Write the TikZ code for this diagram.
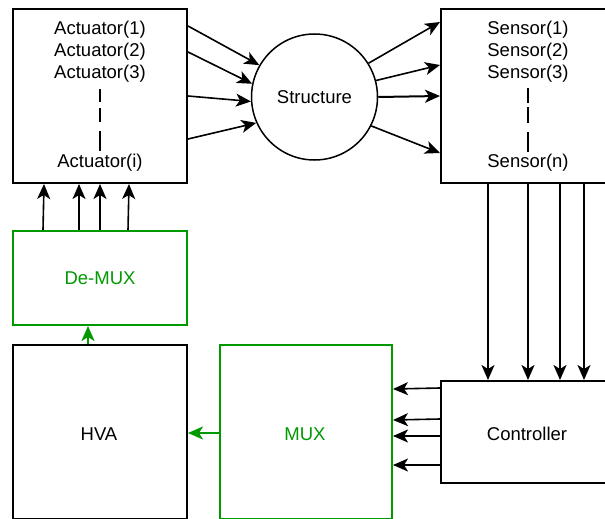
\documentclass[tikz,border=0pt]{standalone}
\usepackage{fontspec}
\setmainfont{Liberation Sans}
\usetikzlibrary{arrows.meta}
\definecolor{grn}{RGB}{0,153,0}
\begin{document}
\begin{tikzpicture}[x=1pt,y=-1pt,
  font=\fontsize{18.5}{22}\selectfont,
  blk/.style={draw=black,line width=2pt,inner sep=0pt,anchor=center},
  gbox/.style={draw=grn,line width=2pt,inner sep=0pt,anchor=center,text=grn},
  lbl/.style={inner sep=0pt,anchor=center},
  arr/.style={line width=1.6pt,-{Stealth[length=15pt,width=13pt,inset=4pt]}},
  garr/.style={arr,draw=grn,-{Stealth[length=15pt,width=13pt,inset=4pt,fill=grn]}},
  vseg/.style={line width=1.3pt}
]
\useasboundingbox (0,0) rectangle (605,519);
\clip (0,0) rectangle (605,519);
\fill[white] (0,0) rectangle (605,519);
% boxes
\node[blk,minimum width=174pt,minimum height=174pt] (act) at (100,96) {};
\node[blk,circle,line width=1.5pt,minimum size=126pt] (str) at (314.5,97) {Structure};
\node[blk,minimum width=174pt,minimum height=174pt] (sen) at (528,96) {};
\node[gbox,minimum width=174pt,minimum height=94pt] (dmx) at (100,278) {De-MUX};
\node[blk,minimum width=174pt,minimum height=174pt] (hva) at (100,432) {};
\node[lbl] (hvatxt) at (99,434) {HVA};
\node[gbox,minimum width=172pt,minimum height=174pt] (mux) at (306,432) {};
\node[lbl,text=grn] (muxtxt) at (305,434) {MUX};
\node[blk,minimum width=174pt,minimum height=102pt] (ctl) at (528,432) {};
\node[lbl] (ctltxt) at (527,434) {Controller};
% actuator labels
\node[lbl] (a1) at (100,30) {Actuator(1)};
\node[lbl] (a2) at (100,52) {Actuator(2)};
\node[lbl] (a3) at (100,74) {Actuator(3)};
\node[lbl] (ai) at (100,163) {Actuator(i)};
\draw[vseg] (100,89) -- (100,102) (100,108) -- (100,122) (100,131) -- (100,151);
% sensor labels
\node[lbl] (s1) at (528,30) {Sensor(1)};
\node[lbl] (s2) at (528,52) {Sensor(2)};
\node[lbl] (s3) at (528,74) {Sensor(3)};
\node[lbl] (sn) at (528,163) {Sensor(n)};
\draw[vseg] (528,88) -- (528,103) (528,107) -- (528,123) (528,132) -- (528,152);
% actuator -> structure
\draw[arr] ([yshift=70pt]act.east) -- (str.150);
\draw[arr] ([yshift=44pt]act.east) -- (str.168);
\draw[arr] ([yshift=0pt]act.east) -- (str.184);
\draw[arr] ([yshift=-43pt]act.east) -- (str.204);
% structure -> sensor
\draw[arr] (str.32) -- ([yshift=74pt]sen.west);
\draw[arr] (str.15) -- ([yshift=31pt]sen.west);
\draw[arr,line width=2pt] (str.0) -- ([yshift=0pt]sen.west);
\draw[arr] (str.333) -- ([yshift=-57pt]sen.west);
% de-mux -> actuator
\draw[arr] ([xshift=-57pt]dmx.north) -- ([xshift=-56pt]act.south);
\draw[arr] ([xshift=-21pt]dmx.north) -- ([xshift=-21pt]act.south);
\draw[arr,line width=2.2pt] ([xshift=0pt]dmx.north) -- ([xshift=0pt]act.south);
\draw[arr] ([xshift=28pt]dmx.north) -- ([xshift=29pt]act.south);
% sensor -> controller
\draw[arr] ([xshift=-40pt]sen.south) -- ([xshift=-40pt]ctl.north);
\draw[arr,line width=2pt] ([xshift=0pt]sen.south) -- ([xshift=0pt]ctl.north);
\draw[arr,line width=2pt] ([xshift=32pt]sen.south) -- ([xshift=32pt]ctl.north);
\draw[arr] ([xshift=56pt]sen.south) -- ([xshift=56pt]ctl.north);
% controller -> mux
\draw[arr] ([yshift=44pt]ctl.west) -- ([yshift=43pt]mux.east);
\draw[arr] ([yshift=13pt]ctl.west) -- ([yshift=12pt]mux.east);
\draw[arr] ([yshift=-4pt]ctl.west) -- ([yshift=-4pt]mux.east);
\draw[arr] ([yshift=-33pt]ctl.west) -- ([yshift=-33pt]mux.east);
% mux -> hva, hva -> de-mux
\draw[garr,line width=2pt] ([yshift=-1pt]mux.west) -- ([yshift=-1pt]hva.east);
\draw[garr,line width=2pt] ([xshift=-12pt]hva.north) -- ([xshift=-12pt]dmx.south);
\end{tikzpicture}
\end{document}
